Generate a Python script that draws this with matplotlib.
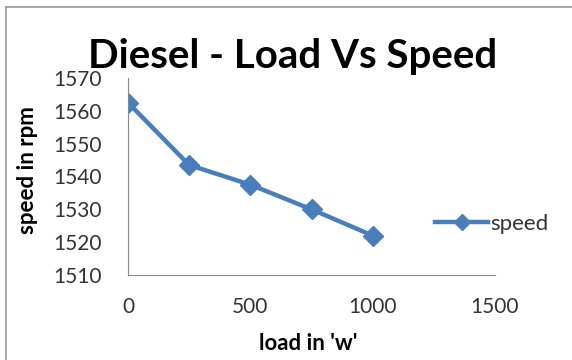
import matplotlib
matplotlib.use("Agg")
import matplotlib.pyplot as plt
from matplotlib.lines import Line2D

load = [0, 250, 500, 750, 1000]
speed = [1562.5, 1543.5, 1537.5, 1530, 1522]
xticks = [0, 500, 1000, 1500]
yticks = [1510, 1520, 1530, 1540, 1550, 1560, 1570]

plt.rcParams['font.family'] = ['Lato', 'DejaVu Sans']
blue = '#4A7EBB'

W, H = 572, 360
fig = plt.figure(figsize=(5.72, 3.6), dpi=100)
fig.patch.set_facecolor('white')
ax = fig.add_axes([128/W, 1-275/H, (495-128)/W, (275-78)/H])
ax.plot(load, speed, color=blue, lw=3.2, marker='D', ms=10, mfc=blue, mec=blue, label='speed')
ax.set_xlim(0, 1500)
ax.set_ylim(1510, 1570)
ax.set_xticks(xticks)
ax.set_yticks(yticks)
for s in ['top', 'right']:
    ax.spines[s].set_visible(False)
for s in ['left', 'bottom']:
    ax.spines[s].set_color('#888888')
    ax.spines[s].set_linewidth(0.8)
ax.tick_params(axis='both', length=0, labelsize=15, colors='#333333')
ax.tick_params(axis='x', pad=16)
ax.tick_params(axis='y', pad=19)
fig.text(308/W, 1-343/H, "load in 'w'", fontsize=16, fontweight='bold',
         ha='center', va='center')
fig.text(28/W, 1-170/H, "speed in rpm", fontsize=16, fontweight='bold',
         ha='center', va='center', rotation=90)
fig.text(293/W, 1-68/H, "Diesel - Load Vs Speed", fontsize=29, fontweight='bold',
         ha='center', va='baseline')
leg = ax.legend(loc='center left', bbox_to_anchor=((435-128)/367, (275-224)/197),
                frameon=False, fontsize=16, handlelength=2.4, handletextpad=0.1,
                borderaxespad=0, borderpad=0)
leg.legend_handles[0].set_markersize(8)
for t in leg.get_texts():
    t.set_color('#333333')
# outer frame
fig.add_artist(Line2D([6/W, 1], [1-7/H, 1-7/H], color='#999999', lw=1.2))
fig.add_artist(Line2D([6/W, 6/W], [0, 1-7/H], color='#999999', lw=1.2))
fig.savefig('out.png', dpi=100)
